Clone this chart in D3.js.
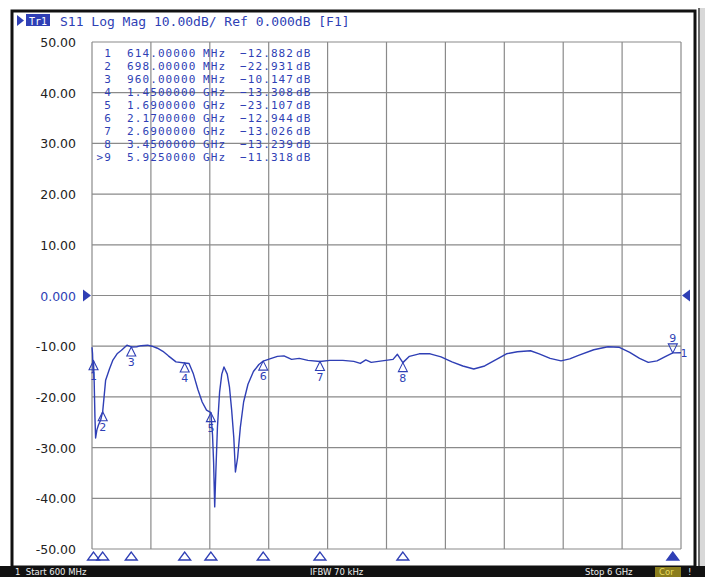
<!DOCTYPE html>
<html><head><meta charset="utf-8">
<script src="https://cdn.jsdelivr.net/npm/d3@7"></script>
<style>
html,body{margin:0;padding:0;background:#fff;}
svg{display:block;}
</style></head>
<body>
<svg id="c" width="705" height="577"></svg>
<script>
// ---- data ----
const traceFreq = [0.600,0.605,0.610,0.614,0.620,0.627,0.633,0.645,0.660,0.680,0.698,0.715,0.725,0.760,0.790,0.830,0.870,0.920,0.960,1.010,1.050,1.110,1.150,1.200,1.250,1.300,1.370,1.450,1.490,1.530,1.570,1.610,1.650,1.690,1.705,1.715,1.725,1.735,1.750,1.770,1.790,1.810,1.840,1.860,1.880,1.900,1.915,1.935,1.960,1.990,2.030,2.080,2.130,2.170,2.230,2.300,2.360,2.430,2.500,2.580,2.690,2.780,2.900,3.000,3.060,3.110,3.160,3.260,3.360,3.400,3.450,3.510,3.600,3.700,3.800,3.900,4.000,4.100,4.200,4.300,4.400,4.500,4.620,4.700,4.800,4.900,4.980,5.060,5.200,5.330,5.430,5.530,5.620,5.700,5.780,5.860,5.925,6.000];
const traceDb = [-10.2,-11.5,-15.2,-12.9,-17.0,-24.0,-28.1,-26.5,-25.5,-24.5,-22.9,-19.0,-16.7,-14.5,-12.8,-11.5,-10.8,-9.8,-10.15,-10.1,-9.9,-9.8,-10.0,-10.4,-11.0,-11.9,-13.1,-13.3,-13.4,-15.5,-18.5,-21.0,-22.6,-23.1,-27.5,-33.0,-41.7,-35.0,-26.0,-19.0,-15.5,-14.1,-15.5,-18.0,-22.5,-28.0,-34.8,-32.0,-26.0,-21.0,-17.5,-15.0,-13.6,-12.94,-12.5,-12.0,-11.9,-12.6,-12.4,-12.8,-13.03,-12.8,-12.8,-13.0,-13.4,-12.7,-13.2,-12.9,-12.6,-11.6,-13.24,-12.0,-11.5,-11.5,-12.1,-13.1,-13.9,-14.5,-13.9,-12.7,-11.5,-11.1,-10.9,-11.5,-12.4,-12.9,-12.5,-11.8,-10.7,-10.1,-10.2,-11.2,-12.4,-13.2,-12.9,-12.0,-11.32,-11.3];
const markerNum = ["1","2","3","4","5","6","7","8","9"];
const markerFreq = [0.614,0.698,0.960,1.450,1.690,2.170,2.690,3.450,5.925];
const markerDb = [-12.882,-22.931,-10.147,-13.308,-23.107,-12.944,-13.026,-13.239,-11.318];
const yTicks = [50,40,30,20,10,0,-10,-20,-30,-40,-50];
const yTickLabels = ["50.00","40.00","30.00","20.00","10.00","0.000","-10.00","-20.00","-30.00","-40.00","-50.00"];
const titleText = "S11 Log Mag 10.00dB/ Ref 0.000dB [F1]";
const statusLeft = "1  Start 600 MHz", statusMid = "IFBW 70 kHz", statusRight = "Stop 6 GHz";

// ---- layout ----
const L=92, R=681, T=42, B=549;
const blue = "#2f3fb5";
const svg = d3.select("#c");
const x = d3.scaleLinear().domain([0.6,6]).range([L,R]);
const y = d3.scaleLinear().domain([-50,50]).range([B,T]);

// outer frame
svg.append("rect").attr("x",12).attr("y",11).attr("width",683).attr("height",556)
  .attr("fill","#fff").attr("stroke","#111").attr("stroke-width",3);
svg.append("rect").attr("x",698).attr("y",8).attr("width",7).attr("height",560).attr("fill","#d8d8d8");
svg.append("line").attr("x1",699).attr("x2",699).attr("y1",8).attr("y2",568).attr("stroke","#444").attr("stroke-width",1.5);

// status bar
svg.append("rect").attr("x",0).attr("y",566).attr("width",705).attr("height",11).attr("fill","#111");
svg.append("rect").attr("x",655).attr("y",567).attr("width",26).attr("height",10).attr("fill","#8a7d1c");
const st = svg.append("g").attr("font-family","DejaVu Sans").attr("font-size",8.5).attr("fill","#eee");
st.append("text").attr("x",15).attr("y",574.5).text(statusLeft).attr("xml:space","preserve");
st.append("text").attr("x",310).attr("y",574.5).text(statusMid);
st.append("text").attr("x",585).attr("y",574.5).text(statusRight);
st.append("text").attr("x",659).attr("y",574.5).attr("fill","#e8dc60").text("Cor");
st.append("text").attr("x",688).attr("y",574.5).text("!");

// title
svg.append("path").attr("d","M17,15 L24,20.5 L17,26 Z").attr("fill",blue);
svg.append("rect").attr("x",26).attr("y",14).attr("width",24).attr("height",12).attr("fill",blue);
svg.append("text").attr("x",38).attr("y",24.5).attr("text-anchor","middle").attr("fill","#fff")
  .attr("font-family","DejaVu Sans Mono").attr("font-size",10).text("Tr1");
svg.append("text").attr("x",60).attr("y",26).attr("fill",blue)
  .attr("font-family","DejaVu Sans Mono").attr("font-size",13).text(titleText);

// grid
const g = svg.append("g");
const xTicks = d3.range(11).map(i=>0.6+i*0.54);
g.selectAll(".vx").data(xTicks).join("line")
  .attr("x1",d=>x(d)).attr("x2",d=>x(d)).attr("y1",T).attr("y2",B)
  .attr("stroke","#8a8a8a").attr("stroke-width",1.2);
g.selectAll(".hy").data(yTicks).join("line")
  .attr("x1",L).attr("x2",R).attr("y1",d=>y(d)).attr("y2",d=>y(d))
  .attr("stroke","#8a8a8a").attr("stroke-width",1.2);

// y labels
svg.append("g").selectAll("text").data(yTicks).join("text")
  .attr("x",76).attr("y",d=>y(d)+5).attr("text-anchor","end")
  .attr("font-family","DejaVu Sans").attr("font-size",12.5)
  .attr("fill",d=>d===0?blue:"#222").text((d,i)=>yTickLabels[i]);
svg.append("path").attr("d",`M83,${y(0)-6} L91,${y(0)} L83,${y(0)+6} Z`).attr("fill",blue);
svg.append("path").attr("d",`M690,${y(0)-6} L682,${y(0)} L690,${y(0)+6} Z`).attr("fill",blue);

// marker table
const tbl = svg.append("g").attr("font-family","DejaVu Sans Mono").attr("font-size",11)
  .attr("letter-spacing",1.1).attr("fill",blue);
const rowY = i => 56.5 + i*13;
const fmt3 = d3.format(".3f");
markerNum.forEach((n,i)=>{
  const f = markerFreq[i];
  const isM = f < 1;
  const ftxt = isM ? d3.format(".5f")(f*1000) : d3.format(".7f")(f);
  const nt = (i===markerNum.length-1) ? ">"+n : n;
  tbl.append("text").attr("x",112).attr("y",rowY(i)).attr("text-anchor","end").text(nt);
  tbl.append("text").attr("x",127).attr("y",rowY(i)).text(ftxt);
  tbl.append("text").attr("x",203).attr("y",rowY(i)).text(isM?"MHz":"GHz");
  tbl.append("text").attr("x",240).attr("y",rowY(i)).text(fmt3(markerDb[i]));
  tbl.append("text").attr("x",296).attr("y",rowY(i)).text("dB");
});

// trace
const pts = traceFreq.map((f,i)=>[f,traceDb[i]]);
svg.append("path").datum(pts)
  .attr("d",d3.line().x(d=>x(d[0])).y(d=>y(d[1])))
  .attr("fill","none").attr("stroke",blue).attr("stroke-width",1.4).attr("stroke-linejoin","round");

// markers on trace
const mk = svg.append("g").attr("fill","none").attr("stroke",blue).attr("stroke-width",1.1);
const mt = svg.append("g").attr("font-family","DejaVu Sans").attr("font-size",11).attr("fill",blue).attr("text-anchor","middle");
markerNum.forEach((n,i)=>{
  const mx = x(markerFreq[i]), my = y(markerDb[i]);
  if (i === markerNum.length-1) {
    mk.append("path").attr("d",`M${mx},${my} L${mx-4.5},${my-9} L${mx+4.5},${my-9} Z`);
    mt.append("text").attr("x",mx).attr("y",my-11).text(n);
  } else {
    mk.append("path").attr("d",`M${mx},${my} L${mx-4.5},${my+9} L${mx+4.5},${my+9} Z`);
    mt.append("text").attr("x",mx).attr("y",my+19).text(n);
  }
});
mt.append("text").attr("x",684).attr("y",y(markerDb[8])+4).text("1");

// bottom marker triangles
const bt = svg.append("g");
markerNum.forEach((n,i)=>{
  const mx = x(markerFreq[i]);
  const active = i === markerNum.length-1;
  bt.append("path").attr("d",`M${mx},552 L${mx-6},560 L${mx+6},560 Z`)
    .attr("fill",active?blue:"none").attr("stroke",blue).attr("stroke-width",1.3);
});
</script>
</body></html>
